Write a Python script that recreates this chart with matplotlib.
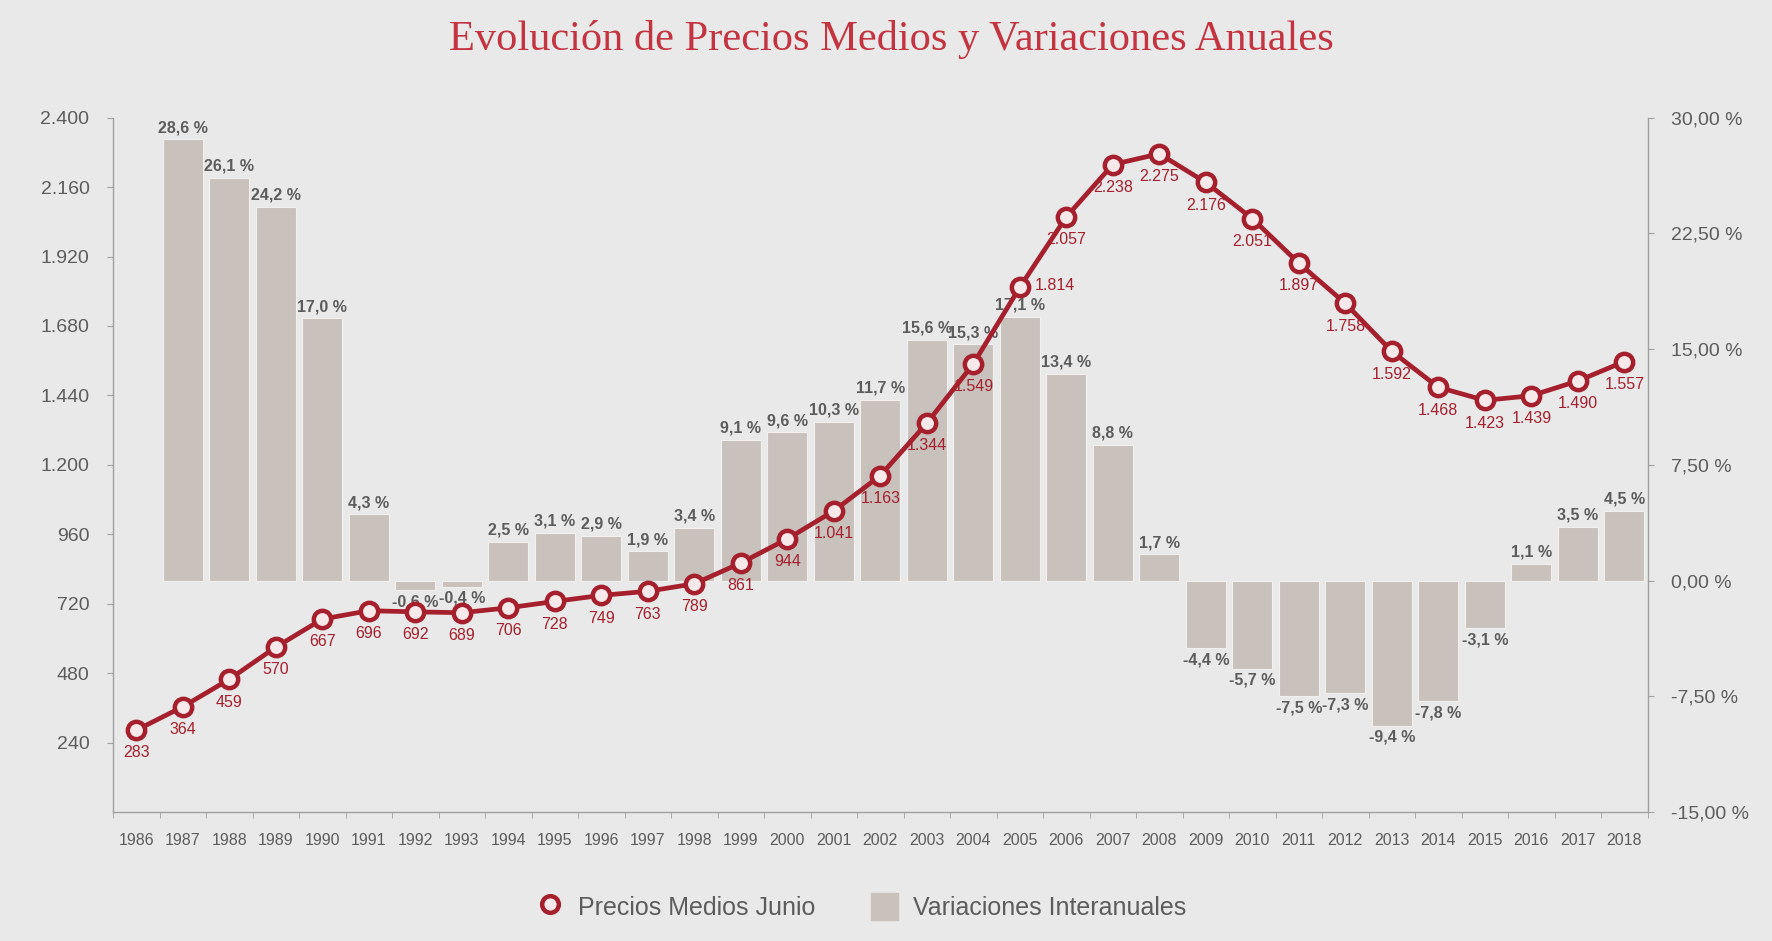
import matplotlib.pyplot as plt
from matplotlib.lines import Line2D
from matplotlib.patches import Patch
import numpy as np

# --- data ---
years = [str(y) for y in range(1986, 2019)]
precios = [283, 364, 459, 570, 667, 696, 692, 689, 706, 728, 749, 763, 789,
           861, 944, 1041, 1163, 1344, 1549, 1814, 2057, 2238, 2275, 2176,
           2051, 1897, 1758, 1592, 1468, 1423, 1439, 1490, 1557]
variaciones = [None, 28.6, 26.1, 24.2, 17.0, 4.3, -0.6, -0.4, 2.5, 3.1, 2.9,
               1.9, 3.4, 9.1, 9.6, 10.3, 11.7, 15.6, 15.3, 17.1, 13.4, 8.8,
               1.7, -4.4, -5.7, -7.5, -7.3, -9.4, -7.8, -3.1, 1.1, 3.5, 4.5]
left_ticks = [240, 480, 720, 960, 1200, 1440, 1680, 1920, 2160, 2400]
right_ticks = [-15, -7.5, 0, 7.5, 15, 22.5, 30]

# --- style ---
BG = '#e9e9e9'
RED = '#a51f2d'
BAR = '#c9c1bb'
GRAY = '#5c5c5c'
AXIS = '#a0a0a0'
FONT = ['Liberation Sans Narrow', 'Liberation Sans', 'DejaVu Sans']


def miles(v):
    return f"{v:,.0f}".replace(',', '.')


def pct(v, dec=1):
    return f"{v:.{dec}f}".replace('.', ',') + ' %'


plt.rcParams['font.family'] = FONT

fig = plt.figure(figsize=(17.72, 9.41), dpi=100, facecolor=BG)
ax = fig.add_axes([0.0638, 0.137, 0.866, 0.738])
ax2 = ax.twinx()
ax.set_zorder(ax2.get_zorder() + 1)
ax.patch.set_visible(False)
ax2.patch.set_facecolor(BG)

x = np.arange(len(years))

# bars (right axis)
bx = [i for i, v in zip(x, variaciones) if v is not None]
bv = [v for v in variaciones if v is not None]
ax2.bar(bx, bv, width=0.86, color=BAR, edgecolor='#f2f0ee', linewidth=0.8)
for i, v in zip(bx, bv):
    if v >= 0:
        ax2.annotate(pct(v), (i, v), xytext=(0, 3), textcoords='offset points',
                     ha='center', va='bottom', fontsize=11.5, color=GRAY,
                     fontweight='bold')
    else:
        ax2.annotate(pct(v), (i, v), xytext=(0, -3), textcoords='offset points',
                     ha='center', va='top', fontsize=11.5, color=GRAY,
                     fontweight='bold')

# line (left axis)
ax.plot(x, precios, color=RED, linewidth=3.4, marker='o', markersize=12.5,
        markerfacecolor='#f7e9e9', markeredgecolor=RED, markeredgewidth=3.2,
        zorder=3)
for i, v in zip(x, precios):
    if years[i] == '2005':
        # sits on the bar label in the original; put it beside the marker
        ax.annotate(miles(v), (i, v), xytext=(11, 1), textcoords='offset points',
                    ha='left', va='center', fontsize=11.5, color=RED)
        continue
    ax.annotate(miles(v), (i, v), xytext=(0, -11), textcoords='offset points',
                ha='center', va='top', fontsize=11.5, color=RED)

# axes limits and ticks
ax.set_xlim(-0.5, len(years) - 0.5)
ax.set_ylim(0, 2400)
ax2.set_ylim(-15, 30)

ax.set_yticks(left_ticks)
ax.set_yticklabels([miles(t) for t in left_ticks])
ax2.set_yticks(right_ticks)
ax2.set_yticklabels([pct(t, 2) for t in right_ticks])

ax.set_xticks(x)
ax.set_xticklabels(years)
ax.set_xticks(np.arange(-0.5, len(years), 1), minor=True)
ax.tick_params(axis='x', which='major', length=0, pad=15, labelsize=11.5,
               labelcolor=GRAY)
ax.tick_params(axis='x', which='minor', length=4, color=AXIS, direction='out')
ax.tick_params(axis='y', length=4, color=AXIS, pad=13, labelsize=14,
               labelcolor=GRAY)
ax2.tick_params(axis='y', length=4, color=AXIS, pad=13, labelsize=14,
                labelcolor=GRAY)

for s in ['top', 'right']:
    ax.spines[s].set_visible(False)
for s in ['top', 'left', 'bottom']:
    ax2.spines[s].set_visible(False)
for sp in [ax.spines['left'], ax.spines['bottom'], ax2.spines['right']]:
    sp.set_color(AXIS)
    sp.set_linewidth(1.0)

# title
fig.text(0.503, 0.958, 'Evolución de Precios Medios y Variaciones Anuales',
         ha='center', va='center', fontsize=30.5, color='#c43340',
         family=['Liberation Serif', 'DejaVu Serif'])

# legend
handles = [
    Line2D([0], [0], color=RED, linewidth=0, marker='o', markersize=12,
           markerfacecolor='#f7e9e9', markeredgecolor=RED, markeredgewidth=3.2),
    Patch(facecolor=BAR, edgecolor=BAR),
]
fig.legend(handles, ['Precios Medios Junio', 'Variaciones Interanuales'],
           loc='center', bbox_to_anchor=(0.486, 0.037), ncol=2, frameon=False,
           fontsize=18, labelcolor=GRAY, handlelength=1.1, handleheight=1.3,
           columnspacing=2.2, handletextpad=0.6)

fig.savefig('out.png', dpi=100, facecolor=BG)
